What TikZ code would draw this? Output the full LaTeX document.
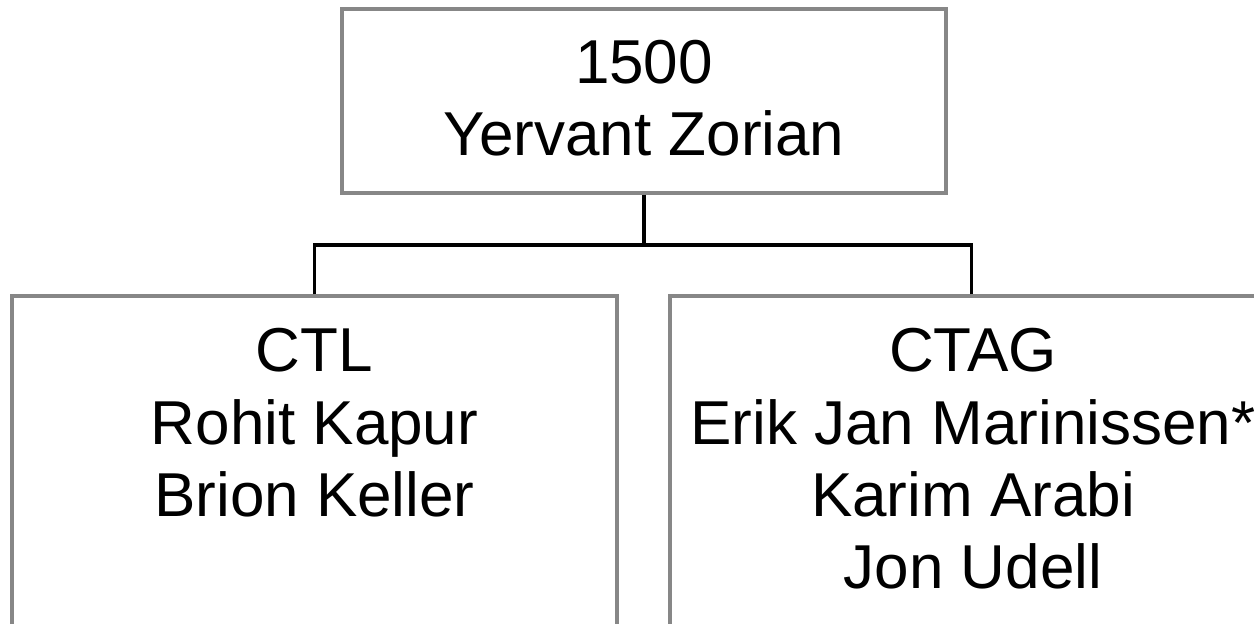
\documentclass[tikz,border=0pt]{standalone}
\usepackage{fontspec}
\setmainfont{Liberation Sans}
\begin{document}
\begin{tikzpicture}[x=1pt,y=-1pt,
  box/.style={draw=black!47, line width=3.2pt, fill=white, inner sep=0pt, rectangle},
  conn/.style={draw=black, line width=3.5pt},
  lbl/.style={anchor=base, inner sep=0pt, font=\fontsize{62}{72}\selectfont}]
\useasboundingbox (0,0) rectangle (1254,624);
\clip (0,0) rectangle (1254,624);
\fill[white] (0,0) rectangle (1254,624);
% boxes
\node (top) [box, minimum width=604pt, minimum height=184pt] at (644,101) {};
\node (ctl) [box, minimum width=605pt, minimum height=364pt] at (314.5,478) {};
\node (ctag) [box, minimum width=603pt, minimum height=364pt] at (971.5,478) {};
% connectors
\coordinate (bus) at (644,245);
\draw[conn] (top.south) -- (bus);
\draw[conn] (ctl.north) |- (bus);
\draw[conn] (ctag.north) |- (bus);
% texts
\node (t1) [lbl] at (644,83) {1500};
\node (t2) [lbl] at (644,155) {Yervant Zorian};
\node (l1) [lbl] at (314.5,371) {CTL};
\node (l2) [lbl] at (314.5,444) {Rohit Kapur};
\node (l3) [lbl] at (314.5,516) {Brion Keller};
\node (r1) [lbl] at (973,371) {CTAG};
\node (r2) [lbl] at (973,444) {Erik Jan Marinissen*};
\node (r3) [lbl] at (973,516) {Karim Arabi};
\node (r4) [lbl] at (973,588) {Jon Udell};
\end{tikzpicture}
\end{document}
